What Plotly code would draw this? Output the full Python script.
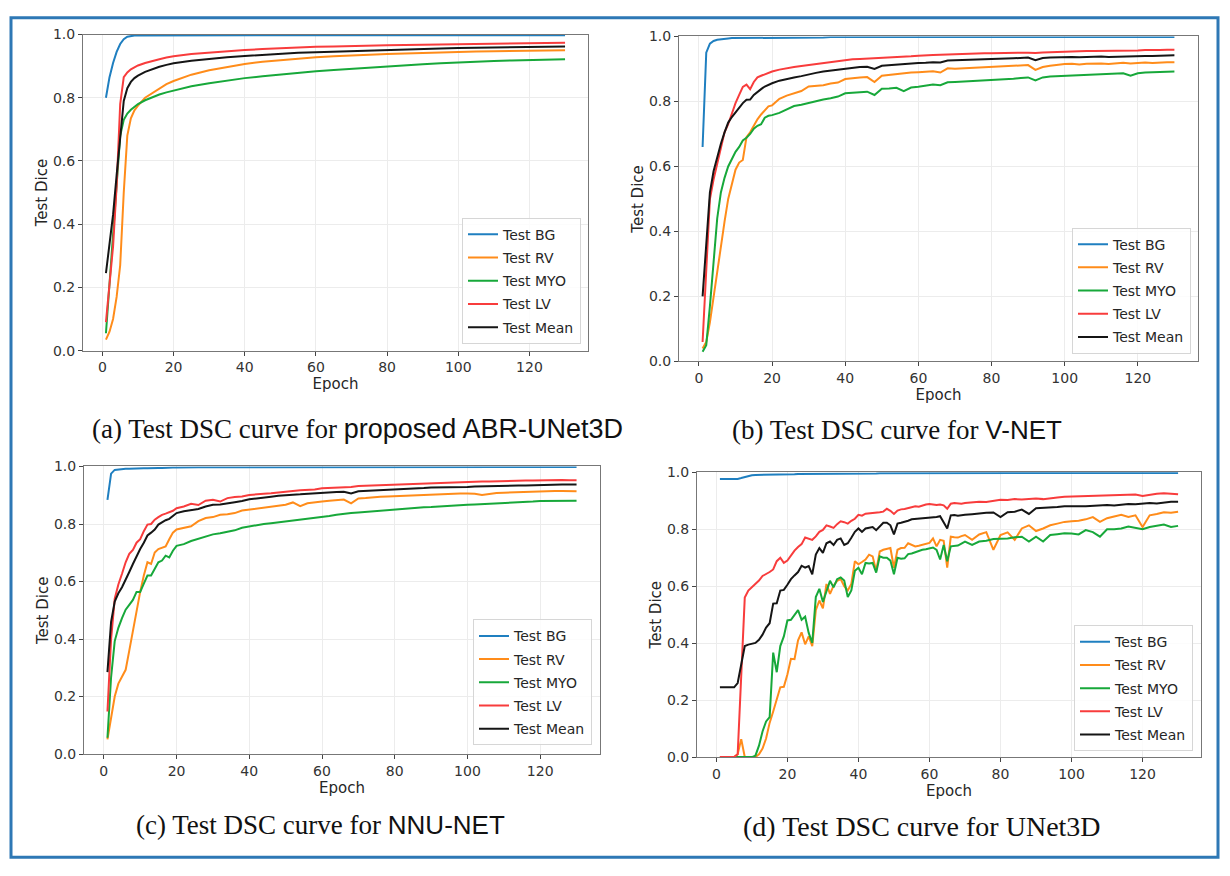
import plotly.graph_objects as go

SERIES_NAMES = ["Test BG", "Test RV", "Test MYO", "Test LV", "Test Mean"]
COLORS = ["#1f7fc0", "#ff8c1a", "#17a83a", "#f83c3c", "#151515"]

X_TICKS = [0, 20, 40, 60, 80, 100, 120]
Y_TICKS = [0.0, 0.2, 0.4, 0.6, 0.8, 1.0]

# ---------------- (a) proposed ABR-UNet3D ----------------
EPOCHS_A = list(range(1, 11)) + [12, 14, 16, 18] + list(range(20, 131, 5))
BG_A = [0.80, 0.865, 0.91, 0.945, 0.97, 0.985, 0.993, 0.996, 0.997, 0.997,
        0.997, 0.998, 0.998, 0.998,
        0.998, 0.998, 0.998, 0.998, 0.998, 0.998, 0.998, 0.998, 0.998, 0.998, 0.998, 0.998,
        0.998, 0.998, 0.998, 0.998, 0.998, 0.998, 0.998, 0.998, 0.998, 0.998, 0.998]
RV_A = [0.035, 0.06, 0.10, 0.17, 0.27, 0.50, 0.68, 0.735, 0.76, 0.775,
        0.80, 0.815, 0.83, 0.843,
        0.853, 0.873, 0.887, 0.898, 0.907, 0.914, 0.919, 0.924, 0.928, 0.931, 0.934, 0.936,
        0.938, 0.94, 0.942, 0.943, 0.945, 0.946, 0.947, 0.948, 0.949, 0.95, 0.95]
MYO_A = [0.055, 0.21, 0.38, 0.54, 0.68, 0.73, 0.75, 0.762, 0.772, 0.78,
         0.792, 0.802, 0.81, 0.817,
         0.823, 0.836, 0.846, 0.855, 0.862, 0.868, 0.874, 0.879, 0.884, 0.888, 0.892, 0.896,
         0.90, 0.903, 0.906, 0.909, 0.912, 0.914, 0.916, 0.918, 0.92, 0.921, 0.922]
LV_A = [0.09, 0.20, 0.33, 0.52, 0.78, 0.865, 0.88, 0.89, 0.897, 0.902,
        0.91, 0.917, 0.922, 0.927,
        0.931, 0.938, 0.943, 0.947, 0.951, 0.954, 0.957, 0.959, 0.961, 0.962, 0.964, 0.965,
        0.966, 0.967, 0.968, 0.969, 0.970, 0.971, 0.972, 0.972, 0.973, 0.973, 0.974]
MEAN_A = [0.245, 0.33, 0.43, 0.555, 0.68, 0.79, 0.83, 0.85, 0.862, 0.87,
          0.882, 0.891, 0.898, 0.904,
          0.909, 0.917, 0.923, 0.928, 0.932, 0.936, 0.939, 0.942, 0.944, 0.946, 0.948, 0.95,
          0.952, 0.953, 0.955, 0.956, 0.957, 0.958, 0.959, 0.96, 0.961, 0.962, 0.962]

# ---------------- (b) V-NET ----------------
EPOCHS_B = list(range(1, 21)) + list(range(22, 131, 2))
BG_B = [0.66, 0.95, 0.978, 0.986, 0.99, 0.992, 0.993, 0.994, 0.995, 0.995,
        0.996, 0.996, 0.996, 0.996, 0.996, 0.997, 0.997, 0.997, 0.997, 0.997,
        0.997, 0.997, 0.997, 0.997, 0.997, 0.997, 0.997, 0.998, 0.998, 0.998,
        0.998, 0.998, 0.998, 0.998, 0.998, 0.998, 0.998, 0.998, 0.998, 0.998,
        0.998, 0.998, 0.998, 0.998, 0.998, 0.998, 0.998, 0.998, 0.998, 0.998,
        0.998, 0.998, 0.998, 0.998, 0.998, 0.998, 0.998, 0.998, 0.998, 0.998,
        0.998, 0.998, 0.998, 0.998, 0.998, 0.998, 0.998, 0.998, 0.998, 0.998,
        0.998, 0.998, 0.998, 0.998, 0.998]
RV_B = [0.04, 0.06, 0.12, 0.20, 0.28, 0.36, 0.43, 0.50, 0.55, 0.59,
        0.612, 0.62, 0.69, 0.705, 0.725, 0.745, 0.76, 0.772, 0.785, 0.788,
        0.808, 0.818, 0.826, 0.832, 0.846, 0.848, 0.85, 0.855, 0.858, 0.869,
        0.872, 0.874, 0.875, 0.86, 0.879, 0.882, 0.885, 0.887, 0.889, 0.89,
        0.892, 0.893, 0.889, 0.902, 0.901, 0.902, 0.903, 0.905, 0.906, 0.907,
        0.906, 0.908, 0.91, 0.911, 0.912, 0.897, 0.906, 0.91, 0.913, 0.915,
        0.916, 0.914, 0.916, 0.917, 0.917, 0.915, 0.918, 0.919, 0.917, 0.919,
        0.92, 0.918, 0.92, 0.921, 0.921]
MYO_B = [0.03, 0.05, 0.17, 0.32, 0.44, 0.52, 0.565, 0.60, 0.625, 0.645,
         0.66, 0.68, 0.688, 0.70, 0.716, 0.725, 0.73, 0.75, 0.756, 0.758,
         0.765, 0.775, 0.786, 0.79, 0.796, 0.80, 0.806, 0.81, 0.815, 0.825,
         0.826, 0.829, 0.83, 0.82, 0.839, 0.84, 0.842, 0.832, 0.843, 0.845,
         0.848, 0.852, 0.85, 0.859, 0.86, 0.861, 0.862, 0.863, 0.865, 0.865,
         0.867, 0.868, 0.87, 0.872, 0.874, 0.865, 0.874, 0.877, 0.878, 0.879,
         0.88, 0.881, 0.882, 0.882, 0.884, 0.883, 0.886, 0.887, 0.879, 0.887,
         0.889, 0.89, 0.892, 0.891, 0.892]
LV_B = [0.06, 0.28, 0.50, 0.56, 0.61, 0.655, 0.705, 0.73, 0.765, 0.795,
        0.82, 0.845, 0.852, 0.838, 0.86, 0.874, 0.879, 0.884, 0.888, 0.892,
        0.898, 0.903, 0.906, 0.909, 0.912, 0.915, 0.918, 0.922, 0.925, 0.929,
        0.93, 0.931, 0.932, 0.932, 0.935, 0.936, 0.937, 0.938, 0.939, 0.941,
        0.943, 0.943, 0.944, 0.945, 0.945, 0.946, 0.946, 0.947, 0.948, 0.948,
        0.949, 0.949, 0.95, 0.95, 0.95, 0.949, 0.951, 0.952, 0.952, 0.953,
        0.954, 0.954, 0.955, 0.955, 0.955, 0.956, 0.956, 0.957, 0.956, 0.957,
        0.958, 0.957, 0.958, 0.959, 0.959]
MEAN_B = [0.20, 0.37, 0.52, 0.585, 0.63, 0.67, 0.705, 0.735, 0.752, 0.766,
          0.78, 0.795, 0.805, 0.806, 0.82, 0.83, 0.838, 0.846, 0.852, 0.856,
          0.864, 0.87, 0.874, 0.878, 0.884, 0.888, 0.892, 0.895, 0.898, 0.902,
          0.904, 0.906, 0.907, 0.90, 0.91, 0.912, 0.914, 0.915, 0.916, 0.918,
          0.919, 0.921, 0.92, 0.926, 0.927, 0.927, 0.928, 0.929, 0.93, 0.93,
          0.931, 0.932, 0.933, 0.934, 0.935, 0.927, 0.934, 0.935, 0.936, 0.937,
          0.937, 0.936, 0.937, 0.937, 0.938, 0.937, 0.938, 0.937, 0.938, 0.939,
          0.94, 0.94, 0.941, 0.942, 0.942]

# ---------------- (c) NNU-NET ----------------
EPOCHS_C = list(range(1, 21)) + list(range(22, 131, 2))
BG_C = [0.884, 0.975, 0.988, 0.99, 0.991, 0.992, 0.992, 0.993, 0.993, 0.994,
        0.994, 0.994, 0.995, 0.995, 0.995, 0.995, 0.996, 0.996, 0.996, 0.996,
        0.997, 0.997, 0.997, 0.997, 0.997, 0.997, 0.997, 0.997, 0.997, 0.997,
        0.998, 0.998, 0.998, 0.998, 0.998, 0.998, 0.998, 0.998, 0.998, 0.998,
        0.998, 0.998, 0.998, 0.998, 0.998, 0.998, 0.998, 0.998, 0.998, 0.998,
        0.998, 0.998, 0.998, 0.998, 0.998, 0.998, 0.998, 0.998, 0.998, 0.998,
        0.998, 0.998, 0.998, 0.998, 0.998, 0.998, 0.998, 0.998, 0.998, 0.998,
        0.998, 0.998, 0.998, 0.998, 0.998]
RV_C = [0.051, 0.131, 0.20, 0.245, 0.268, 0.293, 0.36, 0.428, 0.507, 0.564,
        0.621, 0.667, 0.661, 0.701, 0.713, 0.718, 0.722, 0.747, 0.77, 0.781,
        0.787, 0.792, 0.81, 0.821, 0.824, 0.832, 0.834, 0.838, 0.847, 0.85,
        0.854, 0.858, 0.861, 0.864, 0.867, 0.875, 0.862, 0.872, 0.876, 0.878,
        0.881, 0.884, 0.885, 0.872, 0.889, 0.89, 0.893, 0.895, 0.896, 0.897,
        0.899, 0.90, 0.902, 0.903, 0.904, 0.904, 0.905, 0.905, 0.906, 0.906,
        0.905, 0.901, 0.905, 0.908, 0.909, 0.91, 0.912, 0.913, 0.913, 0.914,
        0.914, 0.915, 0.915, 0.914, 0.914]
MYO_C = [0.057, 0.268, 0.393, 0.439, 0.473, 0.502, 0.519, 0.536, 0.564, 0.564,
         0.593, 0.621, 0.621, 0.644, 0.667, 0.673, 0.69, 0.684, 0.707, 0.724,
         0.73, 0.741, 0.749, 0.758, 0.764, 0.768, 0.773, 0.778, 0.787, 0.792,
         0.796, 0.80, 0.803, 0.806, 0.81, 0.813, 0.816, 0.818, 0.82, 0.824,
         0.828, 0.832, 0.836, 0.838, 0.84, 0.842, 0.844, 0.847, 0.85, 0.852,
         0.853, 0.855, 0.856, 0.858, 0.859, 0.861, 0.862, 0.864, 0.865, 0.867,
         0.868, 0.869, 0.87, 0.871, 0.872, 0.874, 0.875, 0.876, 0.878, 0.88,
         0.88, 0.881, 0.882, 0.881, 0.881]
LV_C = [0.148, 0.40, 0.54, 0.59, 0.627, 0.667, 0.696, 0.71, 0.735, 0.747,
        0.775, 0.798, 0.80, 0.815, 0.824, 0.832, 0.836, 0.84, 0.846, 0.855,
        0.861, 0.87, 0.866, 0.881, 0.884, 0.878, 0.89, 0.894, 0.896, 0.901,
        0.902, 0.905, 0.907, 0.91, 0.914, 0.915, 0.917, 0.918, 0.92, 0.924,
        0.925, 0.926, 0.928, 0.929, 0.932, 0.933, 0.934, 0.935, 0.937, 0.938,
        0.939, 0.94, 0.941, 0.942, 0.943, 0.944, 0.944, 0.945, 0.945, 0.946,
        0.947, 0.948, 0.948, 0.949, 0.95, 0.95, 0.951, 0.951, 0.951, 0.952,
        0.952, 0.952, 0.953, 0.952, 0.952]
MEAN_C = [0.285, 0.46, 0.53, 0.559, 0.58, 0.604, 0.633, 0.661, 0.69, 0.713,
          0.735, 0.76, 0.77, 0.781, 0.798, 0.806, 0.813, 0.818, 0.828, 0.838,
          0.844, 0.849, 0.852, 0.861, 0.867, 0.868, 0.873, 0.876, 0.88, 0.886,
          0.889, 0.893, 0.895, 0.898, 0.901, 0.902, 0.903, 0.905, 0.907, 0.909,
          0.91, 0.911, 0.912, 0.906, 0.914, 0.915, 0.916, 0.918, 0.919, 0.92,
          0.921, 0.922, 0.924, 0.925, 0.927, 0.927, 0.928, 0.928, 0.929, 0.929,
          0.93, 0.931, 0.931, 0.932, 0.933, 0.933, 0.934, 0.934, 0.935, 0.935,
          0.936, 0.936, 0.937, 0.937, 0.937]

# ---------------- (d) UNet3D ----------------
EPOCHS_D = list(range(1, 71)) + list(range(72, 131, 2))
BG_D = [0.977, 0.977, 0.977, 0.977, 0.977, 0.977, 0.98, 0.984, 0.987, 0.99,
        0.991, 0.991, 0.991, 0.992, 0.992, 0.992, 0.992, 0.993, 0.993, 0.993,
        0.993, 0.993, 0.994, 0.994, 0.994, 0.994, 0.994, 0.994, 0.995, 0.995,
        0.995, 0.995, 0.995, 0.995, 0.995, 0.996, 0.996, 0.996, 0.996, 0.996,
        0.996, 0.996, 0.996, 0.996, 0.996, 0.997, 0.997, 0.997, 0.997, 0.997,
        0.997, 0.997, 0.997, 0.997, 0.997, 0.997, 0.997, 0.997, 0.997, 0.997,
        0.997, 0.997, 0.997, 0.997, 0.997, 0.997, 0.997, 0.997, 0.997, 0.997,
        0.998, 0.998, 0.998, 0.998, 0.998, 0.998, 0.998, 0.998, 0.998, 0.998,
        0.998, 0.998, 0.998, 0.998, 0.998, 0.998, 0.998, 0.998, 0.998, 0.998,
        0.998, 0.998, 0.998, 0.998, 0.998, 0.998, 0.998, 0.998, 0.998, 0.998]
RV_D = [0.0, 0.0, 0.0, 0.0, 0.0, 0.01, 0.063, 0.0, 0.0, 0.0,
        0.0, 0.01, 0.03, 0.065, 0.12, 0.16, 0.20, 0.245, 0.247, 0.29,
        0.345, 0.344, 0.41, 0.438, 0.396, 0.424, 0.39, 0.516, 0.55, 0.522,
        0.608, 0.573, 0.602, 0.619, 0.625, 0.60, 0.585, 0.608, 0.688, 0.677,
        0.685, 0.694, 0.711, 0.705, 0.654, 0.722, 0.728, 0.73, 0.734, 0.665,
        0.728, 0.734, 0.735, 0.751, 0.745, 0.74, 0.742, 0.745, 0.748, 0.752,
        0.768, 0.74, 0.763, 0.76, 0.665, 0.774, 0.772, 0.771, 0.776, 0.78,
        0.763, 0.782, 0.79, 0.728, 0.78, 0.789, 0.763, 0.803, 0.814, 0.794,
        0.803, 0.814, 0.82, 0.826, 0.828, 0.83, 0.835, 0.843, 0.826, 0.839,
        0.845, 0.851, 0.843, 0.849, 0.808, 0.849, 0.854, 0.86, 0.858, 0.862]
MYO_D = [0.0, 0.0, 0.0, 0.0, 0.0, 0.0, 0.0, 0.0, 0.0, 0.0,
         0.005, 0.04, 0.09, 0.125, 0.14, 0.367, 0.298, 0.39, 0.424, 0.48,
         0.482, 0.499, 0.516, 0.482, 0.493, 0.436, 0.401, 0.562, 0.591, 0.545,
         0.585, 0.619, 0.596, 0.625, 0.631, 0.62, 0.562, 0.585, 0.654, 0.665,
         0.642, 0.682, 0.68, 0.682, 0.648, 0.705, 0.70, 0.70, 0.69, 0.642,
         0.70, 0.697, 0.698, 0.713, 0.715, 0.72, 0.725, 0.728, 0.73, 0.732,
         0.736, 0.728, 0.694, 0.745, 0.688, 0.74, 0.742, 0.743, 0.75, 0.757,
         0.745, 0.757, 0.76, 0.766, 0.767, 0.768, 0.772, 0.774, 0.757, 0.774,
         0.757, 0.78, 0.783, 0.786, 0.785, 0.782, 0.797, 0.79, 0.774, 0.80,
         0.80, 0.803, 0.81, 0.806, 0.80, 0.808, 0.812, 0.817, 0.808, 0.812]
LV_D = [0.0, 0.0, 0.0, 0.0, 0.0, 0.01, 0.28, 0.56, 0.585, 0.597,
        0.608, 0.62, 0.636, 0.642, 0.65, 0.659, 0.688, 0.70, 0.682, 0.69,
        0.71, 0.725, 0.738, 0.748, 0.771, 0.768, 0.763, 0.775, 0.791, 0.798,
        0.814, 0.81, 0.805, 0.818, 0.828, 0.825, 0.82, 0.83, 0.837, 0.851,
        0.848, 0.855, 0.856, 0.858, 0.857, 0.86, 0.862, 0.872, 0.865, 0.854,
        0.866, 0.87, 0.871, 0.874, 0.878, 0.881, 0.879, 0.884, 0.887, 0.889,
        0.886, 0.885, 0.887, 0.884, 0.872, 0.89, 0.892, 0.891, 0.89, 0.892,
        0.894, 0.897, 0.896, 0.90, 0.904, 0.903, 0.906, 0.905, 0.907, 0.908,
        0.906, 0.91, 0.912, 0.914, 0.915, 0.916, 0.917, 0.917, 0.919, 0.92,
        0.919, 0.921, 0.921, 0.922, 0.917, 0.922, 0.925, 0.927, 0.925, 0.923]
MEAN_D = [0.245, 0.245, 0.245, 0.245, 0.245, 0.26, 0.32, 0.39, 0.395, 0.398,
          0.401, 0.412, 0.43, 0.455, 0.47, 0.539, 0.54, 0.585, 0.587, 0.605,
          0.625, 0.638, 0.65, 0.672, 0.665, 0.671, 0.642, 0.711, 0.734, 0.717,
          0.751, 0.757, 0.745, 0.763, 0.768, 0.745, 0.751, 0.77, 0.791, 0.803,
          0.791, 0.803, 0.805, 0.808, 0.797, 0.812, 0.823, 0.823, 0.814, 0.782,
          0.82, 0.823, 0.826, 0.83, 0.835, 0.836, 0.837, 0.838, 0.839, 0.84,
          0.841, 0.843, 0.846, 0.826, 0.803, 0.849, 0.85, 0.848, 0.85, 0.851,
          0.853, 0.856, 0.858, 0.859, 0.843, 0.86, 0.862, 0.869, 0.854, 0.874,
          0.875, 0.877, 0.878, 0.881, 0.88, 0.881, 0.881, 0.883, 0.884, 0.885,
          0.884, 0.886, 0.889, 0.888, 0.89, 0.892, 0.891, 0.894, 0.897, 0.897]

CAPTIONS = [
    ("(a) Test DSC curve for ", "proposed ABR-UNet3D"),
    ("(b) Test DSC curve for ", "V-NET"),
    ("(c) Test DSC curve for ", "NNU-NET"),
    ("(d) Test DSC curve for UNet3D", ""),
]

panels = [
    dict(x=EPOCHS_A, ys=[BG_A, RV_A, MYO_A, LV_A, MEAN_A], ax="", leg="legend",
         xdom=[83 / 1230, 588 / 1230], ydom=[1 - 349 / 876, 1 - 27 / 876],
         legpos=(581 / 1230, 1 - 342 / 876), cap=(90 / 1230, 1 - 429 / 876),
         capsize=(27, 27)),
    dict(x=EPOCHS_B, ys=[BG_B, RV_B, MYO_B, LV_B, MEAN_B], ax="2", leg="legend2",
         xdom=[679 / 1230, 1198 / 1230], ydom=[1 - 360 / 876, 1 - 29 / 876],
         legpos=(1191 / 1230, 1 - 352 / 876), cap=(730 / 1230, 1 - 430 / 876),
         capsize=(27, 26)),
    dict(x=EPOCHS_C, ys=[BG_C, RV_C, MYO_C, LV_C, MEAN_C], ax="3", leg="legend3",
         xdom=[84 / 1230, 600 / 1230], ydom=[1 - 760 / 876, 1 - 467 / 876],
         legpos=(592 / 1230, 1 - 751 / 876), cap=(134 / 1230, 1 - 832 / 876),
         capsize=(27, 26)),
    dict(x=EPOCHS_D, ys=[BG_D, RV_D, MYO_D, LV_D, MEAN_D], ax="4", leg="legend4",
         xdom=[697 / 1230, 1201 / 1230], ydom=[1 - 763 / 876, 1 - 473 / 876],
         legpos=(1193 / 1230, 1 - 757 / 876), cap=(741 / 1230, 1 - 834 / 876),
         capsize=(28, 28)),
]

for p in panels:
    for ys in p["ys"]:
        assert len(ys) == len(p["x"]), (len(ys), len(p["x"]))

fig = go.Figure()
TICKFONT = dict(family="DejaVu Sans", size=14, color="#333333")
TITLEFONT = dict(family="DejaVu Sans", size=15, color="#262626")

layout = dict(
    width=1230, height=876, autosize=False,
    margin=dict(l=0, r=0, t=0, b=0),
    paper_bgcolor="white", plot_bgcolor="white",
    showlegend=True,
)

annotations = []
for i, p in enumerate(panels):
    for name, color, ys in zip(SERIES_NAMES, COLORS, p["ys"]):
        fig.add_trace(go.Scatter(
            x=p["x"], y=ys, mode="lines", name=name,
            line=dict(color=color, width=2),
            xaxis="x" + p["ax"], yaxis="y" + p["ax"],
            legend=p["leg"], legendgroup=p["leg"] + name,
        ))
    axis_common = dict(
        showline=True, mirror=True, linecolor="#777777", linewidth=1,
        ticks="outside", ticklen=4, tickwidth=1, tickcolor="#444444",
        showgrid=True, gridcolor="#ececec", gridwidth=1, zeroline=False,
        tickfont=TICKFONT,
    )
    layout["xaxis" + p["ax"]] = dict(
        axis_common, domain=p["xdom"], anchor="y" + p["ax"],
        range=[-5.45, 136.45], tickvals=X_TICKS,
        title=dict(text="Epoch", font=TITLEFONT, standoff=3),
    )
    layout["yaxis" + p["ax"]] = dict(
        axis_common, domain=p["ydom"], anchor="x" + p["ax"],
        range=[0, 1], tickvals=Y_TICKS, tickformat=".1f",
        title=dict(text="Test Dice", font=TITLEFONT, standoff=1),
    )
    layout[p["leg"]] = dict(
        x=p["legpos"][0], y=p["legpos"][1], xanchor="right", yanchor="bottom",
        xref="paper", yref="paper",
        bgcolor="rgba(255,255,255,0.85)", bordercolor="#d6d6d6", borderwidth=1,
        font=dict(family="DejaVu Sans", size=14, color="#262626"),
        tracegroupgap=2, itemwidth=30,
    )
    serif_part, sans_part = CAPTIONS[i]
    serif_size, sans_size = p["capsize"]
    text = serif_part
    if sans_part:
        text += ('<span style="font-family:\'Liberation Sans\';font-size:%dpx">' % sans_size
                 + sans_part + '</span>')
    annotations.append(dict(
        text=text, x=p["cap"][0], y=p["cap"][1], xref="paper", yref="paper",
        xanchor="left", yanchor="middle", showarrow=False,
        font=dict(family="Liberation Serif", size=serif_size, color="#111111"),
    ))

layout["annotations"] = annotations
layout["shapes"] = [dict(
    type="rect", xref="paper", yref="paper",
    x0=11 / 1230, x1=1218 / 1230, y0=1 - 865 / 876, y1=1 - 10 / 876,
    line=dict(color="#2e78b5", width=3), fillcolor="rgba(0,0,0,0)", layer="above",
)]

fig.update_layout(layout)
fig.write_html("out.html")
